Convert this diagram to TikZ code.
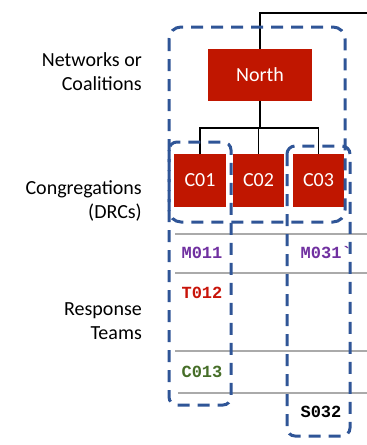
\documentclass[tikz,border=0pt]{standalone}
\usepackage{fontspec}
\setmainfont{Carlito}
\newfontfamily\codefont{Liberation Mono}[Ligatures=ResetAll]
\definecolor{dkred}{RGB}{192,22,0}
\definecolor{dkblue}{RGB}{47,85,151}
\definecolor{rowgray}{RGB}{170,170,170}
\definecolor{mpurple}{RGB}{112,48,160}
\definecolor{tred}{RGB}{200,20,10}
\definecolor{cgreen}{RGB}{70,110,40}
\begin{document}
\begin{tikzpicture}[x=1pt,y=-1pt,
  orgbox/.style={fill=dkred, text=white, inner sep=0pt,
    font=\fontsize{20}{24}\selectfont},
  grouping/.style={draw=dkblue, line width=3pt, dash pattern=on 12pt off 8pt},
  rowline/.style={draw=rowgray, line width=2pt},
  link/.style={draw=black, line width=1.8pt},
  tier/.style={anchor=east, align=right, inner sep=0pt,
    font=\fontsize{20}{24}\selectfont},
  code/.style={inner sep=0pt, font=\codefont\bfseries\fontsize{17}{20}\selectfont}]
\useasboundingbox (0,0) rectangle (367,445);

% tier labels
\node[tier] (lnet) at (142,72) {Networks or\\Coalitions};
\node[tier] (lcong) at (142,201) {Congregations\\(DRCs)};
\node[tier] (lresp) at (142,321) {Response\\Teams};

% row separators
\draw[rowline] (175,234) -- (367,234);
\draw[rowline] (175,273) -- (367,273);
\draw[rowline] (175,351) -- (367,351);
\draw[rowline] (178,393) -- (367,393);

% organisation boxes
\node[orgbox, minimum width=104pt, minimum height=52pt] (north) at (260,75) {North};
\node[orgbox, minimum width=52pt, minimum height=53pt] (c1) at (200,180.5) {C01};
\node[orgbox, minimum width=51pt, minimum height=53pt] (c2) at (258.5,180.5) {C02};
\node[orgbox, minimum width=51pt, minimum height=53pt] (c3) at (318.5,180.5) {C03};

% connectors
\coordinate (feed) at (367,13);
\draw[link] (feed) -| (north.north);
\draw[link] (north.south) -- ++(0,27) coordinate (j);
\draw[link] (j) -| (c1.north);
\draw[link] (j) -| (c2.north);
\draw[link] (j) -| (c3.north);

% groupings
\draw[grouping, rounded corners=12pt] (169,27) rectangle (345,222);
\draw[grouping, rounded corners=8pt] (169,142) rectangle (231,405);
\draw[grouping, rounded corners=8pt] (287,146) rectangle (350,436);

% response teams
\node[code, text=mpurple] (m011) at (202,253) {M011};
\node[code, text=tred] (t012) at (202,292.5) {T012};
\node[code, text=cgreen] (c013) at (202,372) {C013};
\node[code, text=mpurple, anchor=west] (m031) at (300.5,253) {M031\textasciigrave};
\node[code, text=black] (s032) at (321,412) {S032};
\end{tikzpicture}
\end{document}
